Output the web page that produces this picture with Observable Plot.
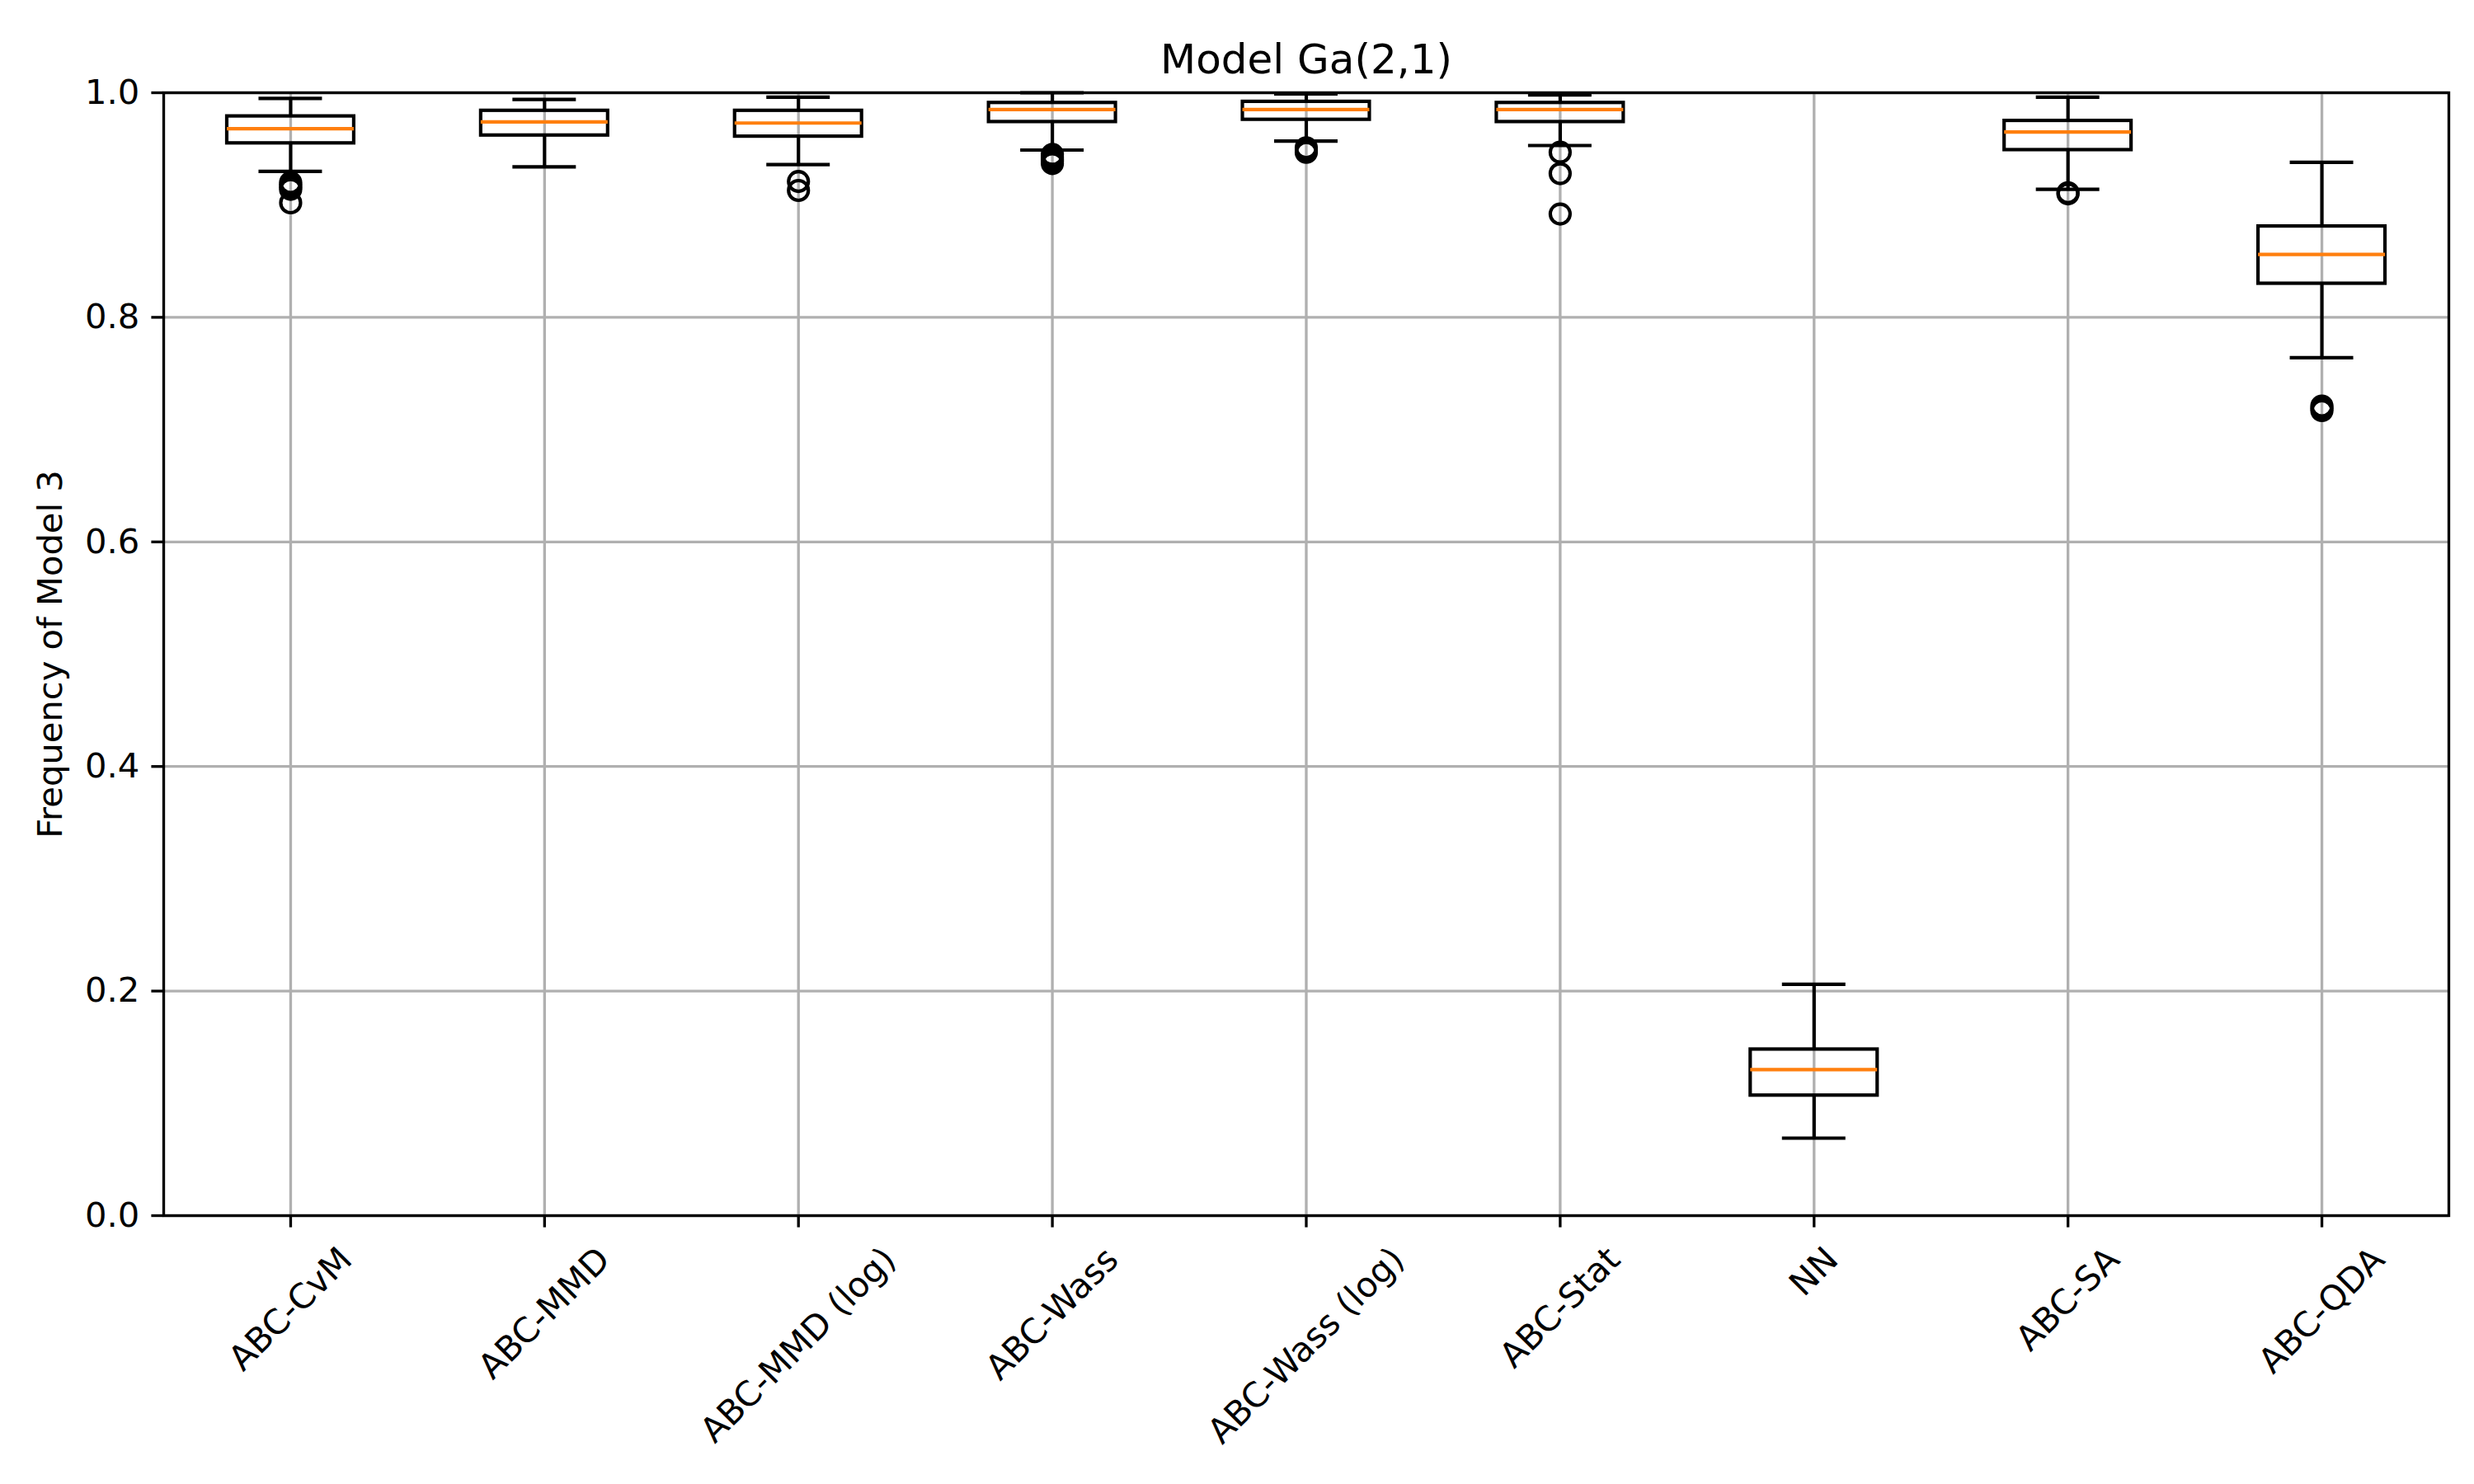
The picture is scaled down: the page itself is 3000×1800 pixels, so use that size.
<!DOCTYPE html>
<html>
<head>
<meta charset="utf-8">
<script src="https://cdn.jsdelivr.net/npm/d3@7"></script>
<script src="https://cdn.jsdelivr.net/npm/@observablehq/plot@0.6"></script>
<style>
  html, body { margin: 0; padding: 0; background: #fff; }
  svg { font-family: "DejaVu Sans"; }
</style>
</head>
<body>
<div id="chart"></div>
<script>
// ---- Data ----
const chartTitle = "Model Ga(2,1)";
const yLabel = "Frequency of Model 3";
const methods = ["ABC-CvM", "ABC-MMD", "ABC-MMD (log)", "ABC-Wass", "ABC-Wass (log)", "ABC-Stat", "NN", "ABC-SA", "ABC-QDA"];
const whiskerLow  = [0.930, 0.934, 0.936, 0.949, 0.957, 0.953, 0.069, 0.914, 0.764];
const quartile1   = [0.955, 0.962, 0.961, 0.974, 0.976, 0.974, 0.107, 0.949, 0.830];
const medians     = [0.968, 0.974, 0.973, 0.985, 0.985, 0.985, 0.130, 0.965, 0.856];
const quartile3   = [0.979, 0.984, 0.984, 0.991, 0.992, 0.991, 0.148, 0.975, 0.881];
const whiskerHigh = [0.995, 0.994, 0.996, 1.000, 0.999, 0.998, 0.206, 0.996, 0.938];
const outliers = [
  [0.920, 0.918, 0.916, 0.914, 0.902],
  [],
  [0.921, 0.913],
  [0.945, 0.943, 0.941, 0.939, 0.937],
  [0.951, 0.949, 0.947],
  [0.947, 0.928, 0.892],
  [],
  [0.911, 0.910],
  [0.721, 0.719, 0.717]
];
const yTicks = [0, 0.2, 0.4, 0.6, 0.8, 1.0];

// ---- Derived tables ----
const rows = methods.map((m, i) => ({
  pos: i + 1, label: m,
  lo: whiskerLow[i], q1: quartile1[i], med: medians[i], q3: quartile3[i], hi: whiskerHigh[i]
}));
const outs = outliers.flatMap((arr, i) => arr.map(v => ({pos: i + 1, v})));
const positions = rows.map(d => d.pos);

// ---- Styling ----
const FS = 41.67;       // 10pt @ 300dpi
const LW = 4.17;        // 1pt
const THIN = 3.33;      // 0.8pt
const TICK = 14.6;      // 3.5pt
const BOXW = 0.25, CAPW = 0.125;

const ctx = document.createElement("canvas").getContext("2d");
ctx.font = `${FS}px "DejaVu Sans"`;
const labelMarks = rows.map(r => {
  const L = ctx.measureText(r.label).width;
  const h = 1.164 * FS;
  const dy = TICK + TICK + (L + h) * Math.SQRT1_2 / 2;
  return Plot.text([r], {
    x: "pos", text: "label", frameAnchor: "bottom", dy,
    rotate: -45, textAnchor: "middle", lineAnchor: "middle",
    fontSize: FS, fill: "black"
  });
});

const chart = Plot.plot({
  width: 3000,
  height: 1800,
  marginLeft: 198,
  marginRight: 31,
  marginTop: 112,
  marginBottom: 326,
  x: {type: "linear", domain: [0.5, 9.5], axis: null},
  y: {domain: [0, 1], axis: null},
  style: {fontFamily: "DejaVu Sans", fontSize: FS + "px", background: "white", color: "black"},
  marks: [
    Plot.gridY(yTicks, {stroke: "#b0b0b0", strokeOpacity: 1, strokeWidth: THIN}),
    Plot.gridX(positions, {stroke: "#b0b0b0", strokeOpacity: 1, strokeWidth: THIN}),
    Plot.ruleX(rows, {x: "pos", y1: "q3", y2: "hi", stroke: "black", strokeWidth: LW}),
    Plot.ruleX(rows, {x: "pos", y1: "lo", y2: "q1", stroke: "black", strokeWidth: LW}),
    Plot.ruleY(rows, {y: "hi", x1: d => d.pos - CAPW, x2: d => d.pos + CAPW, stroke: "black", strokeWidth: LW}),
    Plot.ruleY(rows, {y: "lo", x1: d => d.pos - CAPW, x2: d => d.pos + CAPW, stroke: "black", strokeWidth: LW}),
    Plot.rect(rows, {x1: d => d.pos - BOXW, x2: d => d.pos + BOXW, y1: "q1", y2: "q3", fill: "none", stroke: "black", strokeWidth: LW}),
    Plot.ruleY(rows, {y: "med", x1: d => d.pos - BOXW, x2: d => d.pos + BOXW, stroke: "#ff7f0e", strokeWidth: LW}),
    Plot.dot(outs, {x: "pos", y: "v", r: 12, stroke: "black", fill: "none", strokeWidth: LW}),
    Plot.frame({stroke: "black", strokeWidth: THIN}),
    Plot.axisY(yTicks, {tickFormat: d3.format(".1f"), tickSize: TICK, tickPadding: TICK, fontSize: FS, label: null, strokeWidth: THIN, stroke: "black", fill: "black"}),
    Plot.axisX(positions, {tickFormat: () => "", tickSize: TICK, label: null, strokeWidth: THIN, stroke: "black"}),
    ...labelMarks,
    Plot.text([chartTitle], {text: d => d, frameAnchor: "top", dy: -40, fontSize: 50, lineAnchor: "middle", fill: "black"}),
    Plot.text([yLabel], {text: d => d, frameAnchor: "left", dx: -137, rotate: -90, fontSize: FS, textAnchor: "middle", lineAnchor: "middle", fill: "black"})
  ]
});
document.getElementById("chart").appendChild(chart);
</script>
</body>
</html>
